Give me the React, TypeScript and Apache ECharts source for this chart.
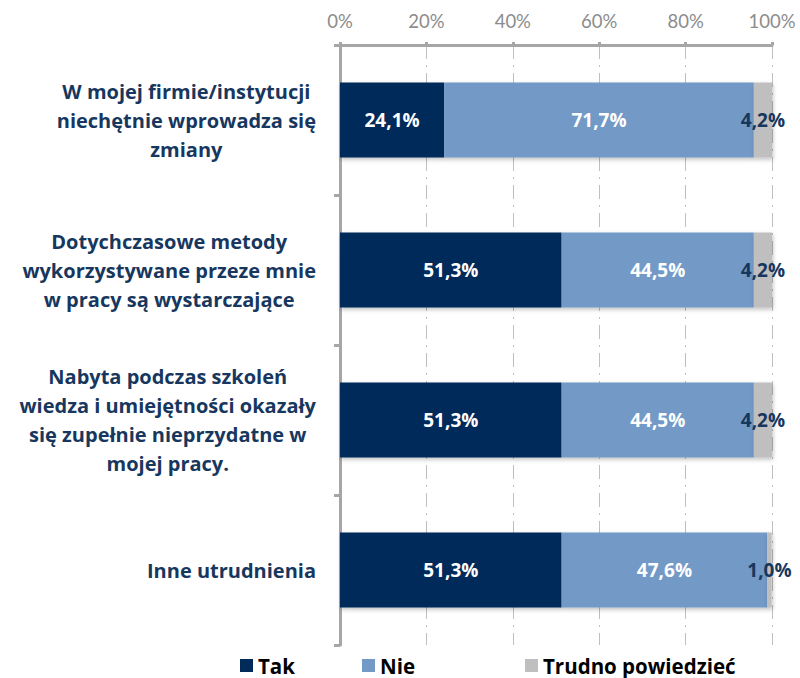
import React, { useEffect, useRef } from "react";
import * as echarts from "echarts";

const categories = [
  "W mojej firmie/instytucji\nniechętnie wprowadza się\nzmiany",
  "Dotychczasowe metody\nwykorzystywane przeze mnie\nw pracy są wystarczające",
  "Nabyta podczas szkoleń\nwiedza i umiejętności okazały\nsię zupełnie nieprzydatne w\nmojej pracy.",
  "Inne utrudnienia",
];
const tak = [24.1, 51.3, 51.3, 51.3];
const nie = [71.7, 44.5, 44.5, 47.6];
const trudno = [4.2, 4.2, 4.2, 1.0];
const seriesNames = ["Tak", "Nie", "Trudno powiedzieć"];

const BOLD = "'Open Sans', 'Noto Sans', sans-serif";
const AXIS = "Lato, 'Open Sans', sans-serif";

export default function App() {
  const ref = useRef<HTMLDivElement>(null);
  useEffect(() => {
    if (!ref.current) return;
    const chart = echarts.init(ref.current, null, { renderer: "svg" });
    const fmt = (p: any) => p.value.toFixed(1).replace(".", ",") + "%";
    const shadow = {
      shadowBlur: 4,
      shadowColor: "rgba(0,0,0,0.25)",
      shadowOffsetX: 1,
      shadowOffsetY: 2,
    };
    const mk = (name: string, data: number[], color: string, labelColor: string) => ({
      name,
      type: "bar",
      stack: "s",
      barWidth: "50%",
      data,
      itemStyle: { color, ...shadow },
      label: {
        show: true,
        position: "inside",
        formatter: fmt,
        color: labelColor,
        fontFamily: BOLD,
        fontWeight: "bold",
        fontSize: 19,
      },
    });
    const legendText = { fontFamily: BOLD, fontWeight: "bold", fontSize: 20.5, color: "#000" };
    const legendBase = {
      top: 650,
      icon: "rect",
      itemWidth: 13,
      itemHeight: 13,
      itemGap: 4,
      textStyle: legendText,
    };
    chart.setOption({
      animation: false,
      grid: { left: 340, right: 28, top: 45, bottom: 33, containLabel: false },
      legend: [
        { ...legendBase, left: 235, data: ["Tak"] },
        { ...legendBase, left: 357, data: ["Nie"] },
        { ...legendBase, left: 520, data: ["Trudno powiedzieć"] },
      ],
      xAxis: {
        type: "value",
        position: "top",
        min: 0,
        max: 100,
        interval: 20,
        axisLine: { show: true, lineStyle: { color: "#A6A6A6", width: 3 } },
        axisTick: { show: true, length: 3, lineStyle: { color: "#A6A6A6", width: 3 } },
        axisLabel: {
          formatter: "{value}%",
          color: "#8C8C8C",
          fontFamily: AXIS,
          fontSize: 18.5,
          margin: 15,
        },
        splitLine: {
          show: true,
          lineStyle: { color: "#BFBFBF", width: 1, type: [14, 6, 2, 6] },
        },
      },
      yAxis: {
        type: "category",
        inverse: true,
        data: categories,
        axisLine: { show: true, lineStyle: { color: "#A6A6A6", width: 3 } },
        axisTick: { show: true, length: 6, lineStyle: { color: "#A6A6A6", width: 3 } },
        axisLabel: {
          margin: 24,
          align: "right",
          formatter: (v: string) =>
            v
              .split("\n")
              .map((l) => "{a|" + l + "}")
              .join("\n"),
          rich: {
            a: {
              align: "center",
              fontFamily: BOLD,
              fontWeight: "bold",
              fontSize: 20,
              lineHeight: 29,
              color: "#17375E",
            },
          },
        },
      },
      series: [
        mk(seriesNames[0], tak, "#002A5A", "#FFFFFF"),
        mk(seriesNames[1], nie, "#7399C6", "#FFFFFF"),
        mk(seriesNames[2], trudno, "#BFBFBF", "#17375E"),
      ],
    });
    return () => chart.dispose();
  }, []);
  return (
    <div
      ref={ref}
      style={{ position: "absolute", left: 0, top: 0, width: 800, height: 678 }}
    />
  );
}
